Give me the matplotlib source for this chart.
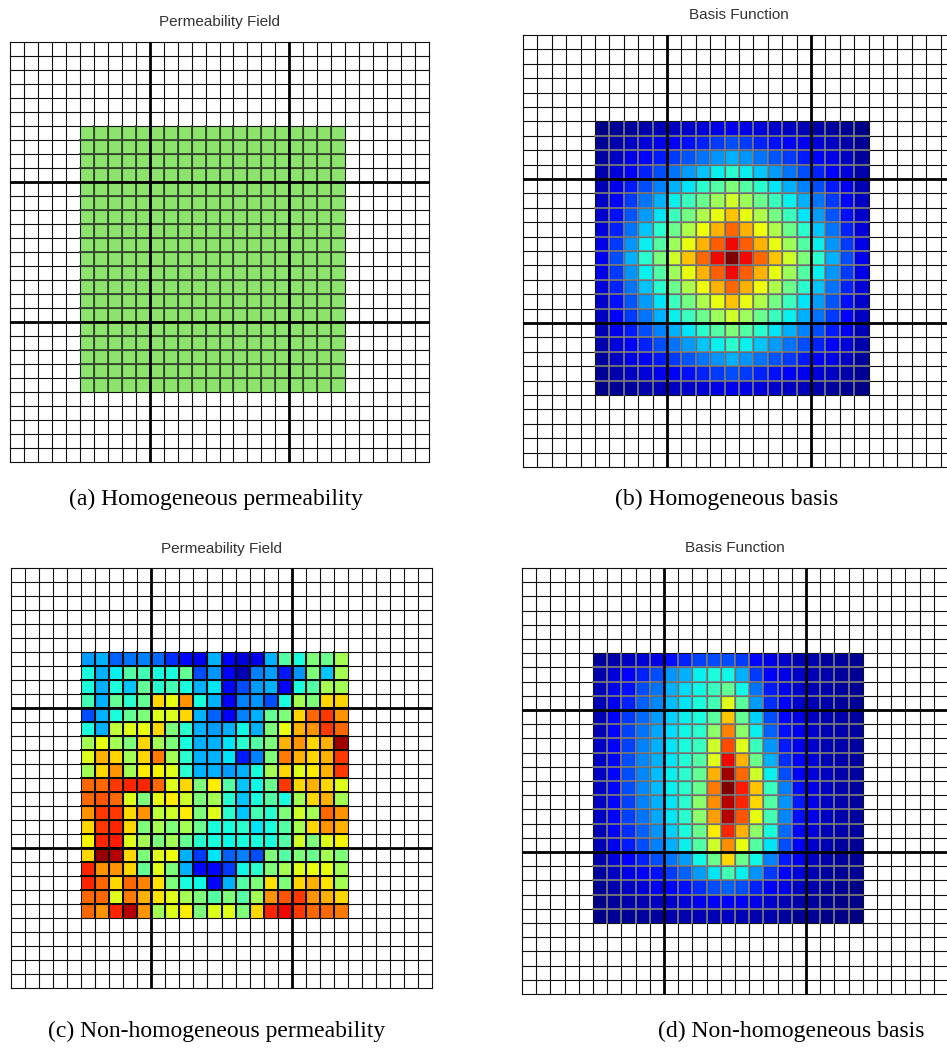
import numpy as np
import matplotlib as mpl
import matplotlib.pyplot as plt

# fine grid 30x30, coarse grid 3x3, the field lives on a 19x19 patch
perm_homog_value = 0.5

basis_homog = [
    [1, 2, 3, 4, 5, 6, 7, 8, 9, 10, 9, 8, 7, 6, 5, 4, 3, 2, 1],
    [2, 4, 6, 8, 10, 12, 14, 16, 18, 20, 18, 16, 14, 12, 10, 8, 6, 4, 2],
    [3, 6, 9, 12, 15, 18, 21, 24, 27, 30, 27, 24, 21, 18, 15, 12, 9, 6, 3],
    [4, 8, 12, 16, 20, 24, 28, 32, 36, 40, 36, 32, 28, 24, 20, 16, 12, 8, 4],
    [5, 10, 15, 20, 25, 30, 35, 40, 45, 50, 45, 40, 35, 30, 25, 20, 15, 10, 5],
    [6, 12, 18, 24, 30, 36, 42, 48, 54, 60, 54, 48, 42, 36, 30, 24, 18, 12, 6],
    [7, 14, 21, 28, 35, 42, 49, 56, 63, 70, 63, 56, 49, 42, 35, 28, 21, 14, 7],
    [8, 16, 24, 32, 40, 48, 56, 64, 72, 80, 72, 64, 56, 48, 40, 32, 24, 16, 8],
    [9, 18, 27, 36, 45, 54, 63, 72, 81, 90, 81, 72, 63, 54, 45, 36, 27, 18, 9],
    [10, 20, 30, 40, 50, 60, 70, 80, 90, 100, 90, 80, 70, 60, 50, 40, 30, 20, 10],
    [9, 18, 27, 36, 45, 54, 63, 72, 81, 90, 81, 72, 63, 54, 45, 36, 27, 18, 9],
    [8, 16, 24, 32, 40, 48, 56, 64, 72, 80, 72, 64, 56, 48, 40, 32, 24, 16, 8],
    [7, 14, 21, 28, 35, 42, 49, 56, 63, 70, 63, 56, 49, 42, 35, 28, 21, 14, 7],
    [6, 12, 18, 24, 30, 36, 42, 48, 54, 60, 54, 48, 42, 36, 30, 24, 18, 12, 6],
    [5, 10, 15, 20, 25, 30, 35, 40, 45, 50, 45, 40, 35, 30, 25, 20, 15, 10, 5],
    [4, 8, 12, 16, 20, 24, 28, 32, 36, 40, 36, 32, 28, 24, 20, 16, 12, 8, 4],
    [3, 6, 9, 12, 15, 18, 21, 24, 27, 30, 27, 24, 21, 18, 15, 12, 9, 6, 3],
    [2, 4, 6, 8, 10, 12, 14, 16, 18, 20, 18, 16, 14, 12, 10, 8, 6, 4, 2],
    [1, 2, 3, 4, 5, 6, 7, 8, 9, 10, 9, 8, 7, 6, 5, 4, 3, 2, 1],
]

perm_heterog = [
    [.28, .30, .22, .24, .25, .23, .17, .13, .10, .30, .12, .08, .10, .30, .45, .38, .50, .48, .55],
    [.38, .30, .36, .45, .43, .38, .38, .47, .20, .27, .12, .05, .25, .28, .15, .27, .50, .32, .55],
    [.38, .30, .38, .32, .47, .40, .43, .38, .30, .35, .13, .20, .28, .30, .12, .38, .45, .55, .55],
    [.43, .30, .47, .40, .47, .68, .63, .75, .38, .30, .12, .25, .27, .20, .38, .55, .50, .68, .68],
    [.20, .30, .38, .47, .50, .62, .62, .68, .30, .22, .12, .25, .30, .47, .50, .68, .80, .85, .75],
    [.38, .30, .58, .62, .63, .68, .50, .40, .30, .28, .30, .37, .30, .50, .63, .72, .75, .85, .80],
    [.55, .63, .55, .50, .68, .55, .50, .38, .30, .30, .35, .40, .45, .50, .72, .75, .68, .72, .97],
    [.62, .72, .68, .55, .68, .78, .55, .40, .30, .30, .35, .15, .25, .50, .78, .72, .68, .72, .85],
    [.55, .68, .75, .55, .66, .65, .62, .40, .30, .30, .28, .30, .38, .55, .68, .62, .66, .72, .85],
    [.80, .80, .85, .87, .87, .80, .62, .68, .50, .66, .45, .32, .37, .48, .85, .68, .72, .68, .62],
    [.80, .82, .80, .62, .50, .63, .66, .60, .50, .55, .40, .32, .38, .45, .38, .55, .68, .72, .55],
    [.75, .85, .85, .68, .75, .58, .60, .66, .50, .62, .40, .32, .43, .40, .50, .60, .55, .80, .75],
    [.68, .85, .87, .68, .50, .55, .50, .55, .48, .38, .38, .40, .35, .38, .45, .55, .68, .75, .72],
    [.65, .87, .88, .62, .55, .50, .55, .47, .40, .38, .37, .38, .38, .38, .45, .60, .50, .62, .65],
    [.68, .98, .95, .68, .50, .62, .64, .30, .18, .35, .22, .25, .20, .50, .45, .50, .48, .55, .50],
    [.87, .75, .75, .68, .47, .62, .50, .30, .13, .13, .18, .37, .40, .50, .55, .62, .63, .63, .55],
    [.87, .80, .68, .80, .77, .67, .50, .38, .37, .13, .30, .45, .50, .67, .50, .68, .72, .67, .55],
    [.80, .80, .62, .78, .72, .67, .62, .55, .50, .45, .50, .45, .55, .75, .82, .85, .75, .72, .68],
    [.80, .75, .87, .95, .75, .55, .62, .66, .50, .62, .62, .50, .68, .87, .90, .85, .80, .80, .78],
]

basis_heterog = [
    [.03, .04, .06, .08, .09, .14, .16, .19, .20, .20, .18, .13, .09, .07, .05, .04, .03, .03, .02],
    [.04, .08, .11, .16, .20, .27, .30, .36, .38, .37, .30, .18, .12, .09, .07, .05, .04, .03, .02],
    [.05, .10, .14, .20, .24, .30, .34, .37, .42, .47, .37, .24, .15, .10, .07, .05, .04, .03, .02],
    [.05, .10, .16, .22, .26, .31, .35, .38, .43, .62, .46, .28, .17, .11, .07, .05, .04, .03, .02],
    [.05, .11, .18, .23, .28, .33, .36, .38, .46, .70, .47, .33, .20, .13, .09, .06, .05, .04, .03],
    [.05, .12, .19, .24, .29, .34, .37, .40, .52, .77, .52, .36, .22, .14, .10, .07, .05, .04, .03],
    [.06, .12, .19, .25, .30, .35, .38, .42, .60, .83, .62, .42, .27, .15, .10, .07, .05, .04, .03],
    [.06, .13, .20, .26, .30, .35, .39, .45, .62, .90, .72, .48, .30, .17, .11, .08, .05, .04, .03],
    [.06, .13, .20, .26, .31, .36, .40, .47, .72, .97, .80, .60, .36, .20, .12, .08, .06, .04, .03],
    [.06, .13, .20, .26, .31, .36, .40, .48, .78, 1.0, .88, .70, .42, .25, .14, .09, .06, .04, .03],
    [.06, .13, .19, .25, .30, .35, .40, .52, .76, .95, .87, .68, .45, .27, .15, .09, .06, .04, .03],
    [.06, .12, .19, .24, .29, .35, .40, .52, .74, .95, .82, .63, .43, .26, .14, .09, .06, .04, .03],
    [.05, .11, .17, .22, .27, .33, .38, .48, .66, .87, .72, .52, .38, .23, .13, .08, .05, .04, .03],
    [.05, .10, .15, .20, .25, .30, .36, .45, .60, .76, .63, .45, .35, .20, .12, .07, .05, .03, .02],
    [.04, .08, .12, .16, .20, .24, .28, .37, .48, .68, .48, .37, .25, .15, .10, .06, .04, .03, .02],
    [.03, .06, .09, .12, .14, .18, .22, .28, .35, .43, .36, .27, .18, .12, .08, .05, .03, .02, .02],
    [.02, .04, .06, .08, .10, .12, .14, .17, .20, .22, .20, .16, .12, .09, .06, .04, .03, .02, .01],
    [.01, .03, .04, .05, .06, .07, .08, .10, .11, .12, .11, .09, .07, .05, .04, .03, .02, .01, .01],
    [.01, .02, .02, .03, .03, .04, .04, .05, .05, .06, .05, .04, .04, .03, .02, .02, .01, .01, .00],
]

titles = ['Permeability Field', 'Basis Function', 'Permeability Field', 'Basis Function']
captions = ['(a) Homogeneous permeability', '(b) Homogeneous basis',
            '(c) Non-homogeneous permeability', '(d) Non-homogeneous basis']

N_FINE = 30
N_COARSE = 3
PATCH_COL0, PATCH_ROW0 = 5, 6   # top-left fine cell of the coloured patch

W, H = 947, 1055
fig = plt.figure(figsize=(W / 100, H / 100), dpi=100)


def px_axes(left, top, w, h):
    # pixel box -> figure axes
    return fig.add_axes([left / W, 1 - (top + h) / H, w / W, h / H])


def draw_panel(ax, field, cmap, vmin, vmax, edge, edge_lw):
    ax.set_xlim(0, N_FINE)
    ax.set_ylim(N_FINE, 0)
    ax.axis('off')
    field = np.asarray(field, dtype=float)
    nr, nc = field.shape
    xe = np.arange(PATCH_COL0, PATCH_COL0 + nc + 1)
    ye = np.arange(PATCH_ROW0, PATCH_ROW0 + nr + 1)
    ax.pcolormesh(xe, ye, field, cmap=cmap, vmin=vmin, vmax=vmax, zorder=1)
    # fine grid
    for i in range(N_FINE + 1):
        ax.plot([i, i], [0, N_FINE], color='#111111', lw=0.8, clip_on=False, zorder=2)
        ax.plot([0, N_FINE], [i, i], color='#111111', lw=0.8, clip_on=False, zorder=2)
    # grid lines inside the coloured patch
    for x in xe[1:-1]:
        ax.plot([x, x], [ye[0], ye[-1]], color=edge, lw=edge_lw, zorder=2.5)
    for y in ye[1:-1]:
        ax.plot([xe[0], xe[-1]], [y, y], color=edge, lw=edge_lw, zorder=2.5)
    step = N_FINE // N_COARSE
    for k in range(step, N_FINE, step):
        ax.plot([k, k], [0, N_FINE], color='black', lw=2.0, zorder=3)
        ax.plot([0, N_FINE], [k, k], color='black', lw=2.0, zorder=3)


boxes = [(10, 42, 419, 420), (523, 35, 432, 432), (11, 568, 421, 420), (522, 568, 426, 426)]
title_y = [22, 15, 549, 548]
caption_pos = [(216, 499), (727, 499), (217, 1031), (791, 1031)]

green = mpl.colors.ListedColormap(['#8ce46c'])
perm_a = np.full((19, 19), perm_homog_value)
fields = [perm_a, np.array(basis_homog) / 100.0, perm_heterog, basis_heterog]
cmaps = [green, 'jet', 'jet', 'jet']
edges = ['#34492d', '#808080', '#0a0a0a', '#808080']
edge_lws = [1.3, 1.2, 1.45, 1.2]

for i in range(4):
    ax = px_axes(*boxes[i])
    draw_panel(ax, fields[i], cmaps[i], 0, 1, edges[i], edge_lws[i])
    cx = boxes[i][0] + boxes[i][2] / 2
    if i == 1:
        cx = 739
    fig.text(cx / W, 1 - title_y[i] / H, titles[i], ha='center', va='center',
             fontsize=11, family='Liberation Sans', color='#333333')
    fig.text(caption_pos[i][0] / W, 1 - caption_pos[i][1] / H, captions[i],
             ha='center', va='center', fontsize=17, family='Liberation Serif', color='black')

fig.savefig('out.png', dpi=100, facecolor='white')
